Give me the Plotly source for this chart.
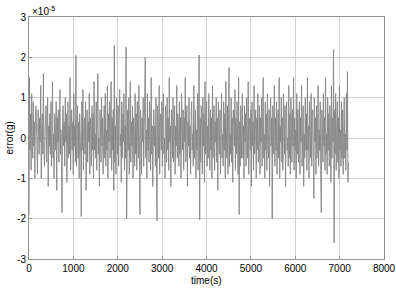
import numpy as np
import plotly.graph_objects as go

err_e5 = [
    -1.9, 1.5, -0.3, 0.6, -0.8, 1.1, 0.2, -0.5, 0.9, -0.2, 0.4, -1.0, 0.5, 0.8, 0.3, -0.6, -0.9, 0.7, 0.1, -0.4,
    0.5, -0.1, 1.3, -1.0, 0.2, 0.6, -0.4, 1.6, -0.3, -0.7, 0.1, 0.4, 0.8, -0.6, 0.0, 1.0, -1.2, 0.3, -0.2, 0.6,
    -0.4, 0.9, -0.7, 0.2, 1.4, -0.5, 0.1, -1.0, 0.6, 0.3, -0.3, 0.9, -1.3, 0.5, -0.1, 0.7, -0.6, 0.3, 1.2, -0.4,
    0.2, -0.9, -1.85, 0.5, 0.8, -0.2, 0.4, -0.7, 1.0, -0.1, 0.6, -1.1, 0.2, 0.9, -0.5, 0.3, -0.4, 1.5, -0.8, 0.1,
    0.7, -0.3, 0.4, -0.9, 1.1, -0.2, 0.3, -0.6, 2.05, -0.7, 0.2, 0.8, -0.5, 0.4, -1.0, 0.6, 0.1, -0.5, -1.95, 0.9,
    -0.3, 1.2, -0.8, 0.3, 0.5, -0.4, 0.9, -1.3, 0.1, 0.7, -0.6, 0.4, -0.1, 1.1, -0.9, 0.5, 0.2, -0.7, 0.8, -0.3,
    0.6, -1.0, 1.4, -0.3, 0.1, -0.5, 0.9, -0.8, 0.3, 1.6, -0.4, 0.0, -1.2, 0.7, 0.3, -0.6, 1.0, -0.2, 0.5, -0.9,
    0.4, 0.8, -0.5, 1.1, -0.7, 0.2, -0.3, 1.3, -1.0, 0.6, -0.1, 0.9, -0.5, 0.3, 1.4, -0.8, 0.5, -0.3, 0.7, -1.3,
    2.3, -0.6, 0.3, -0.9, 1.0, 0.1, -0.4, 0.8, -0.7, 0.5, 1.2, -0.2, 0.1, -1.1, 0.9, -0.5, 0.6, -0.1, 1.1, -0.8,
    0.3, -0.5, 2.25, -2.0, 0.5, 0.7, -0.3, 1.0, -0.9, 0.2, 1.4, -0.6, 0.4, -0.2, 0.8, -1.0, 0.5, 0.1, -0.7, 1.1,
    -0.4, 0.6, -0.8, 0.9, 0.0, -0.5, 1.3, -0.3, -1.9, 0.7, 0.3, -0.9, 0.5, -0.1, 1.0, -0.7, 0.4, 0.8, 2.0, -0.5,
    0.2, -1.0, 1.1, -0.3, 0.5, -0.6, 0.9, 0.1, -0.8, 1.5, -0.4, 0.3, -1.2, 0.6, 0.7, -0.2, 0.3, -0.7, 1.0, -0.5,
    -2.05, 0.8, 0.1, -0.5, 1.3, -0.9, 0.4, 0.6, -0.3, 0.9, -0.7, 0.2, 1.1, -0.4, 0.0, -1.0, 0.8, 0.5, -0.6, 1.0,
    -0.3, 0.5, -0.8, 1.5, -0.1, 0.3, -1.2, 0.7, 0.4, -0.5, 1.0, -0.6, 0.1, 0.8, -0.9, 0.3, -0.2, 1.3, -0.5, 0.6,
    0.1, -0.7, 0.9, -0.4, 0.5, -1.0, 1.1, 0.2, -0.3, 0.7, -0.8, 0.5, -0.1, 1.5, -0.6, 0.3, 0.8, -1.2, 0.4, -0.2,
    1.0, -0.5, 0.3, -0.9, 0.6, 0.9, -0.3, 0.1, -0.7, 1.3, -0.5, 0.4, 0.7, -1.0, 0.2, -0.3, 1.1, -0.8, 0.5, 2.06,
    -2.03, 0.5, -0.6, 0.8, 0.3, -0.9, 1.0, -0.2, 0.6, -1.1, 1.4, -0.4, 0.0, 0.9, -0.7, 0.3, -0.5, 1.1, 0.1, -0.8,
    0.7, -0.3, 0.5, -1.0, 1.3, -0.5, 0.2, 0.8, -0.8, 0.4, -0.1, 1.0, -0.6, 0.5, -1.3, 0.9, 0.3, -0.4, 0.7, -0.9,
    0.3, 1.1, -0.5, 0.1, -0.7, 0.9, -0.3, 0.6, -1.0, 1.4, 0.2, -0.5, 0.8, -0.9, 0.4, 1.75, -0.7, 0.1, -0.4, 1.0,
    -0.6, 0.5, -1.1, 0.7, 0.3, -0.2, 1.2, -0.8, 0.5, -0.4, 0.9, 0.0, -0.9, 1.5, -1.9, 0.4, -0.7, 0.8, -0.5, 0.2,
    1.1, -0.5, 0.3, -1.0, 0.8, -0.1, 0.6, -0.7, 1.0, 0.1, -0.5, 1.4, -0.9, 0.3, 0.5, -0.3, 0.7, -1.2, 0.9, -0.2,
    0.4, -0.8, 1.3, -0.4, 0.1, 0.7, -1.0, 0.5, -0.3, 1.1, -0.6, 0.2, 0.8, -0.9, 0.5, -0.1, 1.0, -0.7, 0.3, 1.5,
    -0.5, 0.1, -1.0, 0.9, -0.3, 0.6, -0.8, 1.1, 0.0, -0.5, 0.7, -1.2, 0.4, 1.0, -0.2, 0.5, -2.0, 0.8, -0.4, 0.3,
    1.3, -0.7, 0.5, -0.3, 0.9, -0.9, 0.2, 0.7, -0.5, 1.5, -1.0, 0.3, -0.1, 1.0, -0.6, 0.5, -0.8, 1.1, 0.1, -0.4,
    0.8, -1.2, 0.4, 0.9, -0.3, 0.0, -0.7, 1.3, -0.5, 0.6, -0.9, 1.0, 0.3, -0.6, 0.7, -0.2, 1.5, -0.8, 0.5, -0.3,
    0.2, -1.0, 1.1, -0.4, 0.7, -0.6, 0.3, 0.9, -0.9, 0.5, -0.1, 1.3, -0.7, 0.4, 0.8, -1.2, 0.1, -0.5, 1.0, -0.3,
    0.6, -0.8, 1.5, -0.3, 0.3, -1.0, 0.9, 0.1, -0.5, 1.1, -0.7, 0.5, 0.7, -0.4, -1.5, 1.0, -0.1, 0.5, -0.9, 0.8,
    -0.5, 0.3, 1.3, -0.7, 0.2, -0.3, 0.9, -1.0, -1.85, 0.7, 0.4, -0.6, 1.1, -0.2, 0.5, -0.8, 1.5, -0.4, 0.1, -0.9,
    1.0, -0.3, 0.6, -0.7, 0.8, 0.3, -1.1, 1.3, -0.5, 0.5, -0.1, 2.2, -2.6, 0.7, -0.4, 1.1, -0.8, 0.3, 0.9, -0.6,
    0.5, -1.0, 1.3, -0.3, 0.2, -0.7, 0.9, -0.5, 0.7, -0.9, 0.4, 1.0, -0.5, 0.1, -0.8, 1.1, -0.3, 1.65, -1.1, -0.6,
]
t_end = 7200  # s
time_s = np.linspace(0, t_end, len(err_e5))

x_ticks = [0, 1000, 2000, 3000, 4000, 5000, 6000, 7000, 8000]
y_ticks = [-3, -2, -1, 0, 1, 2, 3]

fig = go.Figure()
fig.add_trace(go.Scatter(
    x=time_s, y=err_e5, mode="lines",
    line=dict(color="#858585", width=0.9),
    hoverinfo="skip", showlegend=False,
))

font = dict(family="Liberation Sans, Arial, sans-serif", size=10, color="#000000")
axis_common = dict(
    showgrid=True, gridcolor="#d0d0d0", gridwidth=1,
    showline=True, linecolor="#909090", linewidth=1, mirror=True,
    ticks="inside", ticklen=3, tickcolor="#909090",
    zeroline=False, tickfont=font, automargin=False,
)
fig.update_layout(
    width=396, height=288,
    margin=dict(l=29, r=12, t=17, b=29),
    paper_bgcolor="white", plot_bgcolor="white",
    xaxis=dict(range=[0, 8000], tickvals=x_ticks, ticktext=[str(v) for v in x_ticks], **axis_common),
    yaxis=dict(range=[-3, 3], tickvals=y_ticks, ticktext=[str(v) for v in y_ticks], **axis_common),
    annotations=[
        dict(text="×10<sup>-5</sup>", x=0, y=1, xref="paper", yref="paper",
             xanchor="left", yanchor="bottom", xshift=1, yshift=-2, showarrow=False, font=font),
        dict(text="time(s)", x=0.5, y=0, xref="paper", yref="paper",
             xanchor="center", yanchor="top", yshift=-14, showarrow=False, font=font),
        dict(text="error(g)", x=0, y=0.5, xref="paper", yref="paper", textangle=-90,
             xanchor="right", yanchor="middle", xshift=-13, showarrow=False, font=font),
    ],
)
# remove the default 8 px page margin so the figure fills the window exactly
fig.write_html("out.html", config={"displayModeBar": False},
               post_script="document.body.style.margin='0';")
